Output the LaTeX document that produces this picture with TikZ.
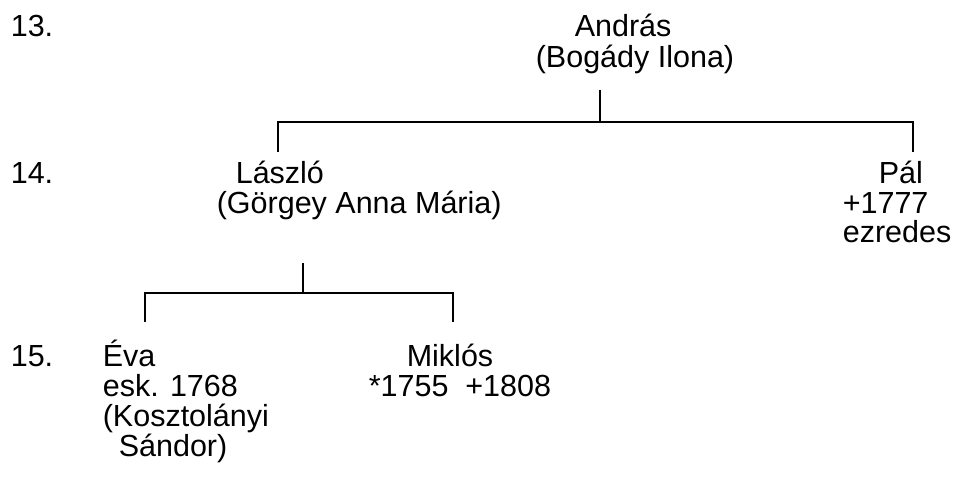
\documentclass[tikz,border=0pt]{standalone}
\usepackage{fontspec}
\setmainfont{Liberation Sans}

\begin{document}
\begin{tikzpicture}[x=1pt, y=-1pt, line width=1.6pt,
  every node/.style={font=\fontsize{30.5}{30}\selectfont, inner sep=0pt, anchor=base west}]
\useasboundingbox (0,0) rectangle (955,481);

% Nemzedekek
\node (gen13) at (10,37) {13.};
\node (gen14) at (10,183) {14.};
\node (gen15) at (10,366) {15.};

% Andras es felesege
\node (andras) at (574,37) {András};
\node (andrasfel) at (535,68) {(Bogády Ilona)};

% Laszlo es felesege
\node (laszlo) at (235,183) {László};
\node (laszlofel) at (216,213) {(Görgey Anna Mária)};

% Pal
\node (pal) at (878,183) {Pál};
\node (palhalal) at (842,213) {+1777};
\node (palrang) at (842,242) {ezredes};

% Eva
\node (eva) at (102,366) {Éva};
\node (evaesk) at (102,396) {esk. 1768};
\node (evafer) at (102,426) {(Kosztolányi};
\node (evafer2) at (118,456) {Sándor)};

% Miklos
\node (miklos) at (406,366) {Miklós};
\node (miklosev) at (368,396) {*1755\ \ +1808};

% Vonalak 13 -> 14
\coordinate (andras-le) at (600,90);
\coordinate (andras-ag) at (600,122);
\coordinate (laszlo-fel) at (278,152);
\coordinate (pal-fel) at (913,152);

\draw (andras-le) -- (andras-ag);
\draw (laszlo-fel) |- (andras-ag) -| (pal-fel);

% Vonalak 14 -> 15
\coordinate (laszlo-le) at (303,263);
\coordinate (laszlo-ag) at (303,293);
\coordinate (eva-fel) at (145,322);
\coordinate (miklos-fel) at (453,322);

\draw (laszlo-le) -- (laszlo-ag);
\draw (eva-fel) |- (laszlo-ag) -| (miklos-fel);

\end{tikzpicture}
\end{document}
